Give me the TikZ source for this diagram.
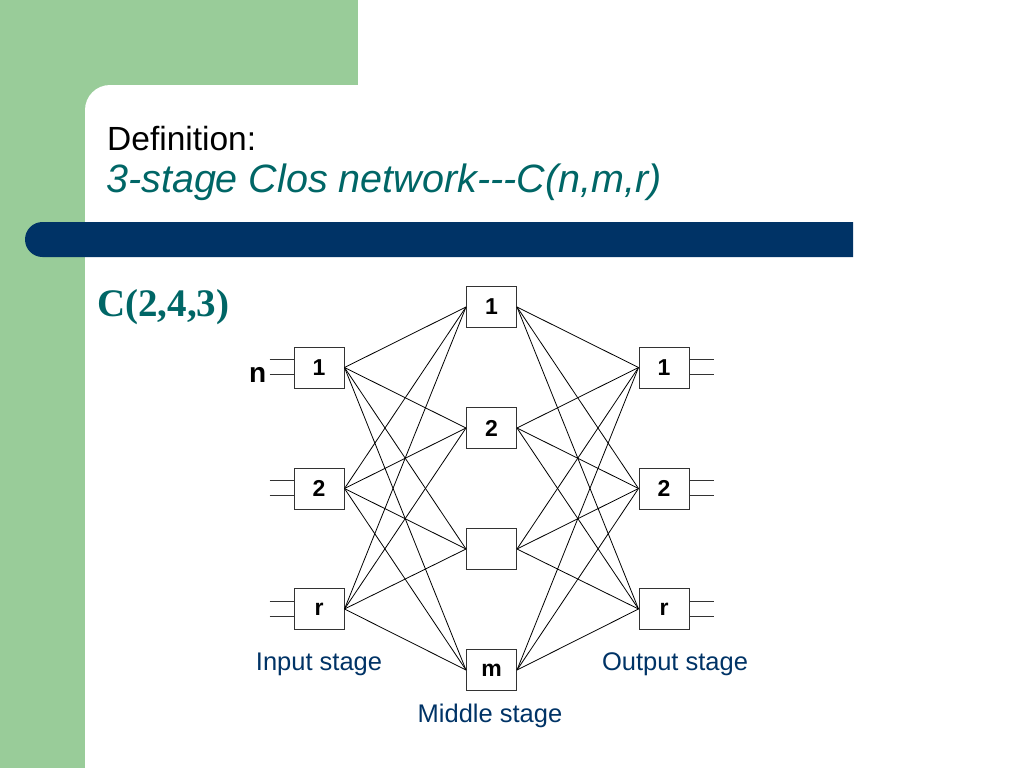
\documentclass[tikz,border=0pt]{standalone}
\usepackage{fontspec}
\usetikzlibrary{calc}
\setmainfont{Liberation Sans}
\newfontfamily\timesfont{Liberation Serif}
\definecolor{slidegreen}{RGB}{153,204,153}
\definecolor{slideblue}{RGB}{0,51,102}
\definecolor{slideteal}{RGB}{0,102,102}
\tikzset{
  switch/.style={draw=black!80, line width=1pt, fill=white, minimum width=50pt,
    minimum height=41pt, inner sep=0pt, font=\fontsize{23}{25}\selectfont\bfseries},
  wire/.style={line width=0.8pt},
  stagelabel/.style={text=slideblue, font=\fontsize{25.5}{30}\selectfont}
}
\begin{document}
\begin{tikzpicture}[x=1pt,y=-1pt]
\useasboundingbox (0,0) rectangle (1024,768);
% slide background
\fill[slidegreen] (0,0) rectangle (358,85);
\fill[slidegreen] (0,0) rectangle (85,768);
\fill[slidegreen] (85,85) rectangle (120,120);
\fill[white, rounded corners=25pt] (85,85) rectangle (400,400);
\fill[white] (85,400) rectangle (400,768);
\fill[slideblue] (853,222) [rounded corners=17.5pt]-- (25,222) -- (25,257) [sharp corners]-- (853,257) -- cycle;
% title
\node[anchor=base west, inner sep=0pt, font=\fontsize{33.5}{40}\selectfont] (D) at (107,150) {Definition:};
\node[anchor=base west, inner sep=0pt, text=slideteal, font=\fontsize{39.5}{44}\selectfont\itshape] (T) at (106,192) {3-stage Clos network-{}-{}-C(n,m,r)};
\node[anchor=base west, inner sep=0pt, text=slideteal, font=\fontsize{39}{44}\selectfont\timesfont\bfseries] (C) at (97,316) {C(2,4,3)};
% input stage
\node[switch] (i1) at (319,367.5) {1};
\node[switch] (i2) at (319,488.5) {2};
\node[switch] (i3) at (319,609) {r};
% middle stage
\node[switch] (m1) at (491.5,307) {1};
\node[switch] (m2) at (491.5,428) {2};
\node[switch] (m3) at (491.5,549) {};
\node[switch] (m4) at (491.5,670) {m};
% output stage
\node[switch] (o1) at (664,367.5) {1};
\node[switch] (o2) at (664,488.5) {2};
\node[switch] (o3) at (664,609) {r};
% links
\foreach \i in {1,2,3}
  \foreach \m in {1,2,3,4}
  {
    \draw[wire] (i\i.east) -- (m\m.west);
    \draw[wire] (m\m.east) -- (o\i.west);
  }
% n inputs and outputs
\foreach \i in {1,2,3}
{
  \coordinate (a\i) at ($(i\i.west)+(-24,-8)$);
  \coordinate (b\i) at ($(i\i.west)+(-24,7)$);
  \coordinate (c\i) at ($(o\i.east)+(24,-8)$);
  \coordinate (d\i) at ($(o\i.east)+(24,7)$);
  \draw[wire, black!80] (a\i) -- (a\i -| i\i.west);
  \draw[wire, black!80] (b\i) -- (b\i -| i\i.west);
  \draw[wire, black!80] (c\i) -- (c\i -| o\i.east);
  \draw[wire, black!80] (d\i) -- (d\i -| o\i.east);
}
\node[anchor=base east, inner sep=0pt, font=\fontsize{28}{30}\selectfont\bfseries] (n) at ($(b1)+(-3,8)$) {n};
% stage labels
\node[stagelabel] (IL) at (319,664) {Input stage};
\node[stagelabel] (ML) at (490,716) {Middle stage};
\node[stagelabel] (OL) at (675,664) {Output stage};
\end{tikzpicture}
\end{document}
